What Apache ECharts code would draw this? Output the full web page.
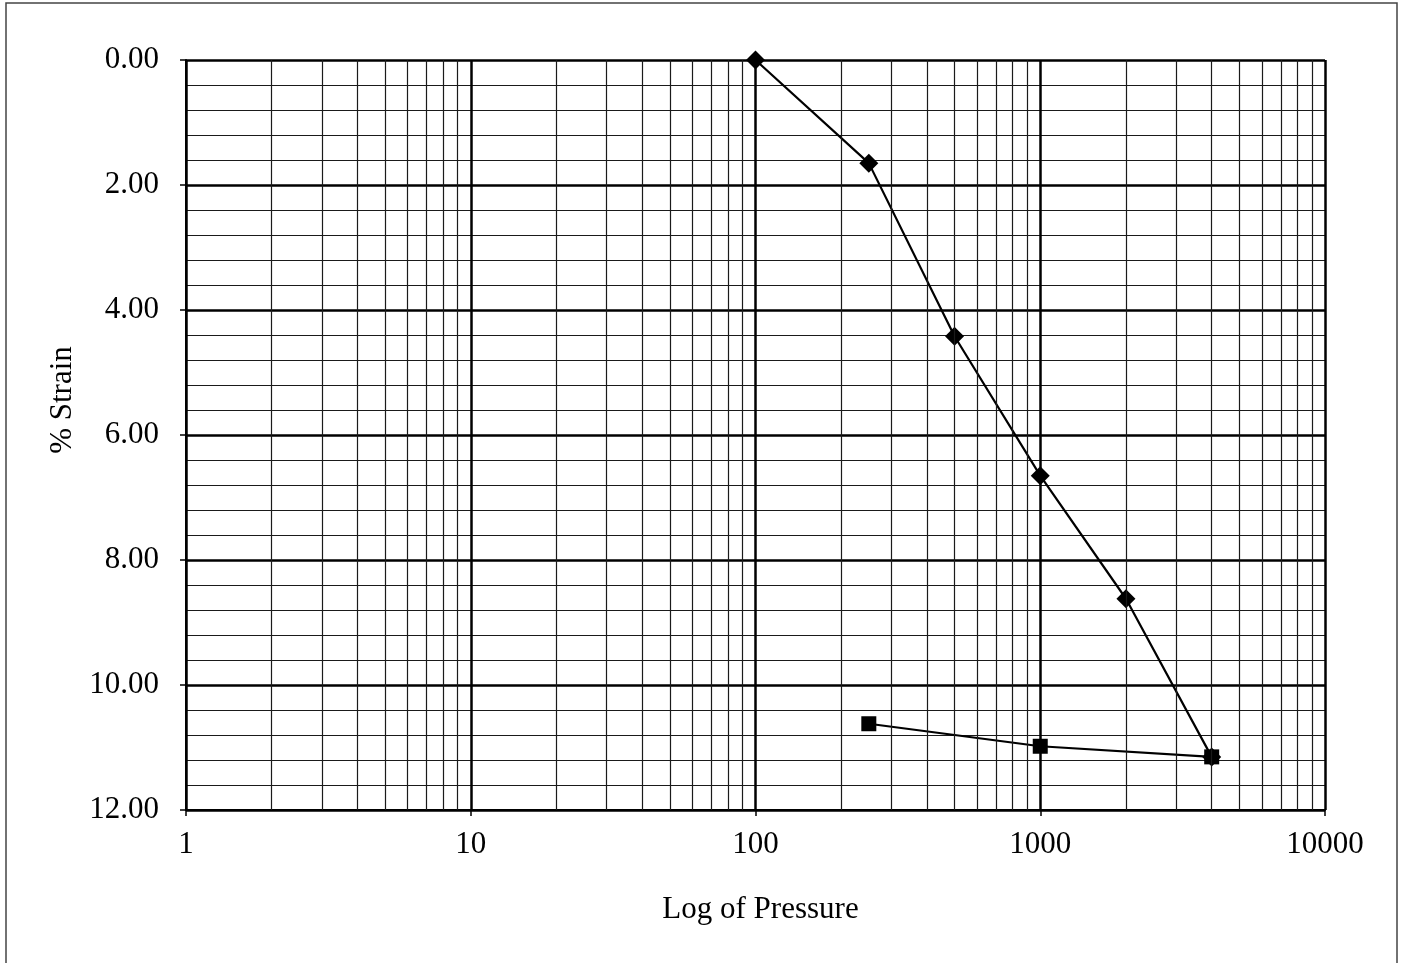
<!DOCTYPE html>
<html>
<head>
<meta charset="utf-8">
<script src="https://cdn.jsdelivr.net/npm/echarts@6/dist/echarts.min.js"></script>
<style>
  html, body { margin: 0; padding: 0; background: #fff; }
  #chart { width: 1405px; height: 963px; }
</style>
</head>
<body>
<div id="chart"></div>
<script>
// Consolidation test: strain vs. applied pressure (log scale)
const loadPressure   = [100, 250, 500, 1000, 2000, 4000];
const loadStrain     = [0.00, 1.65, 4.42, 6.65, 8.62, 11.15];
const unloadPressure = [250, 1000, 4000];
const unloadStrain   = [10.62, 10.98, 11.15];

const xDecades = [1, 10, 100, 1000];          // decade starts for the log grid
const xMinorSteps = [2, 3, 4, 5, 6, 7, 8, 9];  // intermediate log gridlines per decade
const yMin = 0, yMax = 12, yStep = 2;

const serif = '"Liberation Serif", "Times New Roman", serif';

// positions of the thin vertical gridlines inside each decade
const minorX = [];
xDecades.forEach(d => xMinorSteps.forEach(m => minorX.push(d * m)));

const chart = echarts.init(document.getElementById('chart'), null, { renderer: 'canvas' });

chart.setOption({
  animation: false,
  backgroundColor: '#fff',
  grid: { left: 186, right: 80, top: 60, bottom: 153, containLabel: false },
  xAxis: {
    type: 'log',
    logBase: 10,
    min: 1,
    max: 10000,
    name: 'Log of Pressure',
    nameLocation: 'middle',
    nameGap: 84,
    nameTextStyle: { fontFamily: serif, fontSize: 31, color: '#000', padding: [0, 0, 0, 10] },
    axisLine: { show: true, onZero: false, lineStyle: { color: '#000', width: 2 } },
    axisTick: { show: true, length: 6, lineStyle: { color: '#000', width: 1.5 } },
    axisLabel: {
      fontFamily: serif, fontSize: 31, color: '#000', margin: 19,
      formatter: v => String(Math.round(v))
    },
    splitLine: { show: true, lineStyle: { color: '#000', width: 2.5 } }
  },
  yAxis: {
    type: 'value',
    inverse: true,
    min: yMin,
    max: yMax,
    interval: yStep,
    axisLine: { show: true, lineStyle: { color: '#000', width: 2 } },
    axisTick: { show: true, length: 6, lineStyle: { color: '#000', width: 1.5 } },
    axisLabel: {
      fontFamily: serif, fontSize: 31, color: '#000', margin: 27,
      formatter: v => v.toFixed(2)
    },
    splitLine: { show: true, lineStyle: { color: '#000', width: 2.5 } },
    minorTick: { show: false, splitNumber: 5 },
    minorSplitLine: { show: true, lineStyle: { color: '#1a1a1a', width: 1.2 } }
  },
  graphic: [
    {
      type: 'rect',
      silent: true,
      shape: { x: 6, y: 3, width: 1391, height: 980 },
      style: { fill: 'none', stroke: '#444', lineWidth: 1.5 },
      z: 100
    },
    {
      type: 'text',
      silent: true,
      x: 63,
      y: 400,
      rotation: Math.PI / 2,
      style: {
        text: '% Strain',
        font: '31px ' + serif,
        fill: '#000',
        align: 'center',
        verticalAlign: 'middle'
      }
    }
  ],
  series: [
    {
      // thin log gridlines between decades
      type: 'line',
      data: [[1, 0]],
      symbol: 'none',
      lineStyle: { opacity: 0 },
      silent: true,
      z: 1,
      markLine: {
        silent: true,
        symbol: 'none',
        label: { show: false },
        lineStyle: { color: '#1a1a1a', width: 1.2, type: 'solid' },
        data: minorX.map(v => ({ xAxis: v }))
      }
    },
    {
      name: 'Loading',
      type: 'line',
      data: loadPressure.map((p, i) => [p, loadStrain[i]]),
      symbol: 'diamond',
      symbolSize: 19,
      lineStyle: { color: '#000', width: 2.2 },
      itemStyle: { color: '#000' },
      z: 3
    },
    {
      name: 'Unloading',
      type: 'line',
      data: unloadPressure.map((p, i) => [p, unloadStrain[i]]),
      symbol: 'rect',
      symbolSize: 15,
      lineStyle: { color: '#000', width: 2.2 },
      itemStyle: { color: '#000' },
      z: 4
    }
  ]
});
</script>
</body>
</html>
